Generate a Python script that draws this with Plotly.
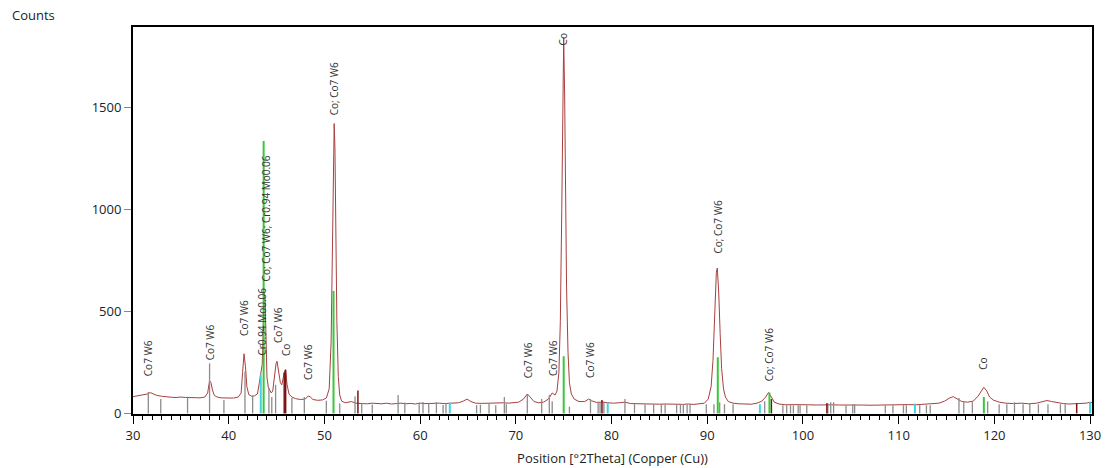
import plotly.graph_objects as go

# Measured diffraction profile: 2Theta (deg) and counts
two_theta = [30.0, 30.5, 31.0, 31.5, 31.8, 32.1, 32.5, 33.0, 33.5, 34.0, 34.5, 35.0, 35.5, 36.0, 36.5, 37.0,
             37.5, 37.8, 38.0, 38.15, 38.3, 38.5, 38.8, 39.2, 39.6, 40.0, 40.5, 41.0, 41.3, 41.45, 41.6, 41.75,
             41.9, 42.1, 42.4, 42.7, 43.0, 43.2, 43.35, 43.5, 43.6, 43.7, 43.8, 43.9, 44.0, 44.15, 44.3, 44.45,
             44.6, 44.8, 44.95, 45.05, 45.2, 45.4, 45.55, 45.7, 45.85, 45.95, 46.1, 46.3, 46.6, 47.0, 47.5, 48.0,
             48.3, 48.5, 48.8, 49.3, 49.8, 50.2, 50.5, 50.7, 50.85, 50.95, 51.02, 51.1, 51.2, 51.3, 51.45, 51.6,
             51.8, 52.2, 52.8, 53.3, 54.0, 54.5, 55.0, 55.5, 56.0, 56.5, 57.0, 57.5, 58.0, 58.5, 59.0, 59.5,
             60.0, 60.5, 61.0, 61.5, 62.0, 62.5, 63.0, 63.5, 64.0, 64.5, 64.9, 65.3, 65.8, 66.5, 67.0, 67.5,
             68.0, 68.7, 69.2, 69.8, 70.3, 70.8, 71.2, 71.5, 71.9, 72.4, 72.9, 73.4, 73.8, 74.1, 74.3, 74.5,
             74.65, 74.8, 74.9, 75.0, 75.1, 75.2, 75.3, 75.45, 75.6, 75.8, 76.1, 76.6, 77.2, 77.6, 77.9, 78.4,
             79.0, 79.6, 80.2, 80.8, 81.4, 82.0, 82.6, 83.2, 83.8, 84.4, 85.0, 85.6, 86.2, 86.8, 87.4, 88.0,
             88.6, 89.2, 89.7, 90.1, 90.4, 90.6, 90.8, 90.95, 91.05, 91.2, 91.35, 91.5, 91.7, 91.9, 92.2, 92.7,
             93.3, 94.0, 94.6, 95.2, 95.7, 96.1, 96.4, 96.7, 97.0, 97.5, 98.2, 99.0, 99.8, 100.6, 101.4, 102.2,
             103.0, 103.8, 104.6, 105.4, 106.2, 107.0, 107.8, 108.6, 109.4, 110.2, 111.0, 111.8, 112.6, 113.4,
             114.2, 114.8, 115.3, 115.7, 116.1, 116.6, 117.2, 117.8, 118.3, 118.6, 118.9, 119.2, 119.5, 119.9,
             120.5, 121.2, 122.0, 122.8, 123.6, 124.4, 125.0, 125.5, 126.0, 126.6, 127.2, 127.8, 128.4, 129.0,
             129.6, 130.0, 130.2]
counts = [82, 86, 88, 95, 102, 96, 88, 84, 80, 79, 78, 80, 78, 76, 77, 76,
          80, 100, 160, 150, 115, 88, 80, 76, 75, 76, 75, 80, 100, 200, 292, 230,
          130, 92, 84, 86, 95, 150, 195, 240, 400, 590, 560, 350, 175, 125, 115, 100,
          110, 190, 245, 255, 215, 150, 140, 170, 210, 205, 140, 95, 80, 72, 68, 70,
          85, 82, 68, 64, 66, 75, 120, 350, 800, 1250, 1420, 1300, 850, 450, 180, 90,
          60, 52, 58, 50, 48, 47, 50, 48, 47, 50, 46, 48, 50, 47, 49, 46,
          50, 48, 49, 47, 50, 48, 49, 48, 52, 60, 70, 58, 50, 49, 50, 48,
          50, 52, 50, 52, 55, 70, 95, 80, 58, 52, 55, 70, 100, 90, 110, 200,
          450, 1000, 1500, 1840, 1560, 1050, 620, 300, 150, 95, 70, 58, 58, 70, 62, 54,
          55, 52, 50, 52, 55, 48, 47, 46, 45, 47, 45, 46, 44, 45, 44, 46,
          44, 46, 50, 70, 130, 260, 520, 690, 712, 590, 390, 220, 120, 80, 58, 50,
          47, 46, 45, 50, 60, 80, 102, 80, 55, 46, 42, 43, 41, 42, 41, 43,
          42, 41, 42, 40, 41, 40, 41, 40, 42, 41, 43, 42, 44, 46,
          50, 60, 75, 82, 70, 58, 55, 60, 85, 110, 128, 110, 80, 65,
          55, 50, 48, 50, 47, 50, 58, 63, 58, 52, 48, 46, 47, 46,
          50, 55, 52]

# Reference pattern sticks (position, height) per phase colour
grey_pos = [31.6, 32.9, 35.7, 38.0, 39.5, 41.7, 42.5, 44.2, 44.5, 44.9, 46.6, 47.9, 50.2, 51.6, 53.2, 53.9,
            55.0, 57.7, 58.4, 59.9, 60.3, 60.9, 61.7, 62.4, 62.7, 65.9, 66.3, 67.2, 67.9, 68.8, 69.0, 71.2,
            72.7, 73.5, 73.8, 75.6, 77.8, 78.6, 78.8, 79.2, 81.4, 82.4, 83.5, 84.4, 85.2, 85.6, 86.8, 87.2,
            87.5, 87.9, 88.2, 89.9, 90.7, 91.3, 91.8, 92.7, 96.0, 97.9, 98.3, 98.7, 99.0, 99.5, 99.7, 100.4,
            102.6, 102.9, 103.2, 104.5, 105.2, 105.4, 108.6, 109.4, 110.5, 110.8, 112.2, 112.9, 113.3, 116.3,
            116.8, 117.7, 119.3, 120.5, 121.3, 122.1, 123.0, 123.7, 124.6, 125.6, 126.9, 127.4]
grey_h = [105, 70, 82, 245, 66, 205, 87, 125, 80, 140, 76, 80, 62, 48, 84, 50,
          43, 90, 53, 53, 56, 50, 55, 41, 51, 40, 42, 51, 40, 80, 45, 90,
          71, 90, 60, 33, 70, 51, 55, 58, 71, 45, 45, 45, 45, 45, 45, 45,
          45, 45, 45, 45, 45, 55, 45, 45, 60, 40, 40, 40, 40, 40, 40, 40,
          50, 55, 55, 40, 45, 45, 40, 40, 40, 40, 40, 40, 40, 76,
          60, 55, 60, 45, 45, 55, 45, 50, 45, 45, 45, 45]
cyan_pos = [43.35, 63.1, 79.6, 95.5, 111.7, 130.0]
cyan_h = [190, 53, 53, 45, 48, 55]
green_pos = [43.65, 50.95, 75.0, 91.1, 96.5, 118.9]
green_h = [1335, 600, 280, 275, 102, 80]
darkred_pos = [45.8, 45.95, 53.5, 79.0, 96.7, 102.5, 128.6]
darkred_h = [200, 215, 112, 66, 70, 50, 50]

# Peak labels: position, label-bottom (counts), text
label_pos = [31.6, 38.0, 41.6, 43.45, 43.9, 45.15, 46.0, 48.3, 51.0, 71.3, 73.9, 74.95, 77.75, 91.1, 96.45, 118.8]
label_y = [174, 248, 370, 272, 637, 335, 272, 154, 1453, 164, 174, 1794, 164, 775, 150, 203]
label_txt = ["Co7 W6", "Co7 W6", "Co7 W6", "Cr0.94 Mo0.06", "Co; Co7 W6; Cr0.94 Mo0.06", "Co7 W6", "Co",
             "Co7 W6", "Co; Co7 W6", "Co7 W6", "Co7 W6", "Co", "Co7 W6", "Co; Co7 W6", "Co; Co7 W6", "Co"]


def sticks(pos, h):
    xs, ys = [], []
    for p, v in zip(pos, h):
        xs += [p, p, None]
        ys += [0, v, None]
    return xs, ys


fig = go.Figure()
fig.add_trace(go.Scatter(x=two_theta, y=counts, mode="lines",
                         line=dict(color="#a8403f", width=1), hoverinfo="skip"))
for pos, h, col, w in [(grey_pos, grey_h, "#8c8c8c", 1.3),
                       (cyan_pos, cyan_h, "#3fd3e3", 2),
                       (darkred_pos, darkred_h, "#7a1414", 1.5),
                       (green_pos, green_h, "#38c838", 2)]:
    xs, ys = sticks(pos, h)
    fig.add_trace(go.Scatter(x=xs, y=ys, mode="lines", line=dict(color=col, width=w),
                             hoverinfo="skip"))

for p, yv, t in zip(label_pos, label_y, label_txt):
    fig.add_annotation(x=p, y=yv, text=t, textangle=-90, showarrow=False,
                       xanchor="center", yanchor="bottom",
                       font=dict(family="Open Sans", size=10, color="#333333"))

fig.add_annotation(xref="paper", yref="paper", x=-0.128, y=1.031, text="Counts",
                   showarrow=False, xanchor="left", yanchor="middle",
                   font=dict(family="Open Sans", size=13, color="#222222"))

fig.update_layout(
    width=1107, height=468,
    margin=dict(l=133, r=15, t=27, b=54),
    paper_bgcolor="white", plot_bgcolor="white",
    showlegend=False,
    font=dict(family="Open Sans", size=13, color="#222222"),
)
fig.update_xaxes(range=[30, 130.2], showgrid=False, zeroline=False, automargin=False,
                 showline=True, linecolor="black", linewidth=2, mirror=True,
                 ticks="outside", ticklen=8, tickwidth=1, tickcolor="black", dtick=10, tick0=30,
                 minor=dict(ticks="outside", ticklen=4, dtick=1, tickcolor="black", tickwidth=1),
                 title=dict(text="Position [°2Theta] (Copper (Cu))", standoff=11,
                            font=dict(size=13)))
fig.update_yaxes(range=[-3, 1893], showgrid=False, zeroline=False, automargin=False,
                 showline=True, linecolor="black", linewidth=2, mirror=True,
                 ticks="outside", ticklen=7, tickwidth=1, tickcolor="#888888",
                 tickvals=[0, 500, 1000, 1500])

fig.write_html("out.html")
